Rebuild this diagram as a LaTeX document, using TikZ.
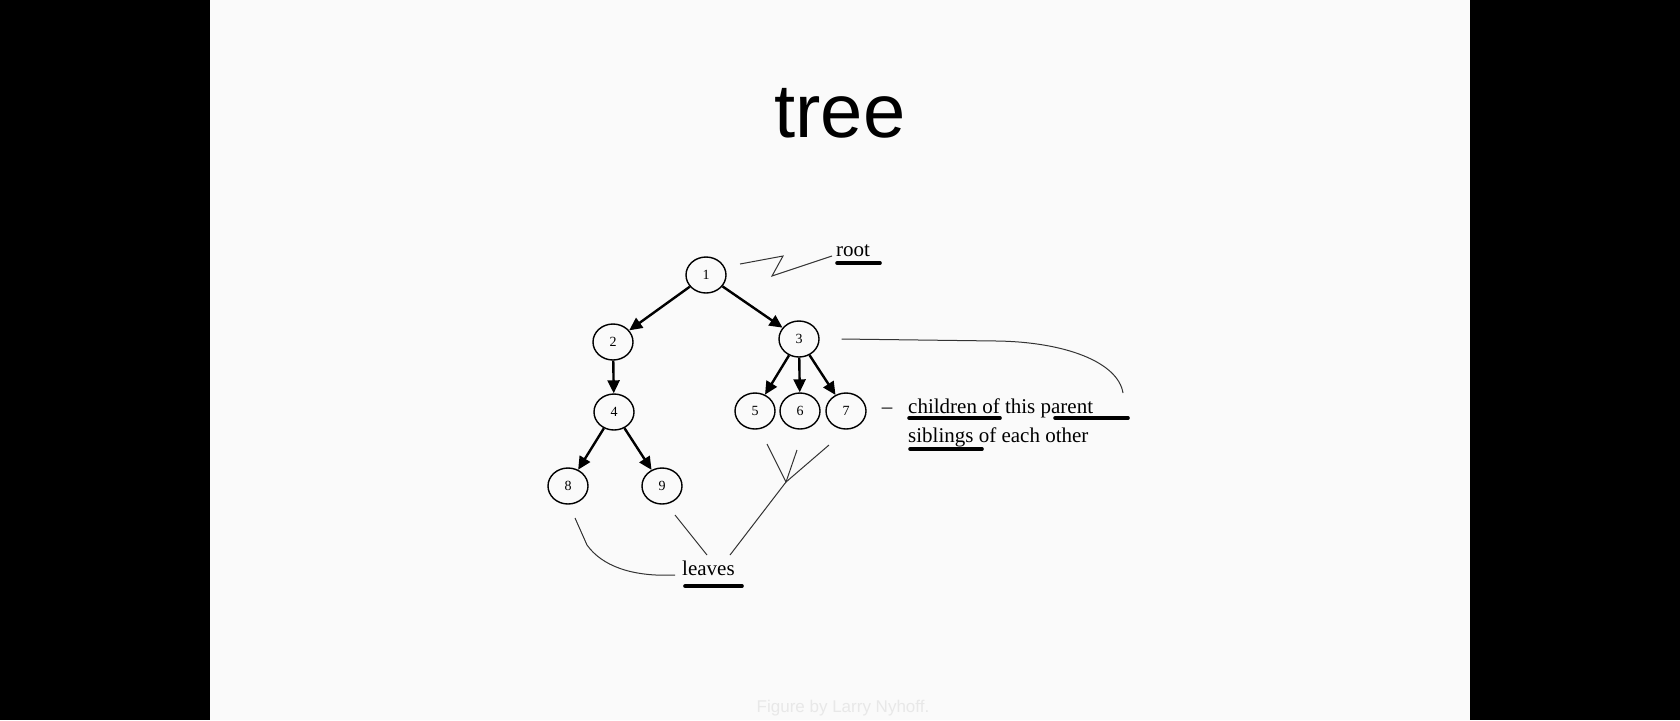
\documentclass[tikz,border=0pt]{standalone}
\usepackage{fontspec}
\setmainfont{Liberation Serif}
\newfontfamily\headfont{Liberation Sans}
\usetikzlibrary{arrows.meta, shapes.geometric}

\begin{document}
\begin{tikzpicture}[->,>={Triangle[length=6.5pt,width=6pt]},x=0.5pt,y=-0.5pt,line width=1.2pt]
                \tikzset{vertex/.style={ellipse, draw, -, line width=0.7pt, minimum width=20pt, minimum height=18pt, inner sep=0pt, font=\fontsize{7pt}{8pt}\selectfont},
                         remark/.style={inner sep=0pt, font=\fontsize{10.5pt}{12pt}\selectfont},
                         note/.style={-, line width=0.5pt, black!80},
                         uline/.style={-, line width=1.8pt, line cap=round}}
                % slide
                \useasboundingbox (0,0) rectangle (1680,720);
                \fill[black] (0,0) rectangle (210,720);
                \fill[black] (1470,0) rectangle (1680,720);
                \fill[white!98!black] (210,0) rectangle (1470,720);
                \node[inner sep=0pt, anchor=base, font=\headfont\fontsize{38pt}{40pt}\selectfont] (title) at (840,137) {tree};
                \node[inner sep=0pt, anchor=base, black!9, font=\headfont\fontsize{8.5pt}{10pt}\selectfont] (credit) at (843,712) {Figure by Larry Nyhoff.};
                % tree
                \node[vertex] (A) at (706,275) {1};
                \node[vertex] (B) at (613,342) {2};
                \node[vertex] (C) at (799,339) {3};
                \node[vertex] (D) at (614,412) {4};
                \node[vertex] (E) at (755,411) {5};
                \node[vertex] (F) at (800,411) {6};
                \node[vertex] (G) at (846,411) {7};
                \node[vertex] (H) at (568,486) {8};
                \node[vertex] (I) at (662,486) {9};
                \path (A) edge              node {} (B);
                \path (A) edge              node {} (C);
                \path (B) edge              node {} (D);
                \path (C) edge              node {} (E);
                \path (C) edge              node {} (F);
                \path (C) edge              node {} (G);
                \path (D) edge              node {} (H);
                \path (D) edge              node {} (I);
                % labels
                \node[remark, anchor=base west] (root) at (835,256) {root};
                \node[remark, anchor=base] (dash) at (887,413) {–};
                \node[remark, anchor=base west] (kids) at (907,413) {children of this parent};
                \node[remark, anchor=base west] (sibs) at (907,442) {siblings of each other};
                \node[remark, anchor=base west] (leaves) at (681,575) {leaves};
                \draw[uline] (837,263) -- (880,263);
                \draw[uline] (909,418) -- (1000,418);
                \draw[uline] (1055,418) -- (1128,418);
                \draw[uline] (910,449) -- (982,449);
                \draw[uline] (685,586) -- (742,586);
                % pointers
                \coordinate (fork) at (786,482);
                \draw[note] (740,264) -- (783,256) -- (772,276) -- ([xshift=-1.5pt]root.base west);
                \draw[note] ([xshift=11pt]C.east) -- (997,341) .. controls (1065,342) and (1118,362) .. (1123,393);
                \draw[note] (767,444) -- (fork);
                \draw[note] (797,450) -- (fork);
                \draw[note] (829,445) -- (fork);
                \draw[note] (fork) -- (730,555);
                \draw[note] (575,518) -- (587,545) .. controls (602,566) and (632,577) .. ([xshift=-3pt]leaves.base west);
                \draw[note] (675,515) -- (707,555);
            \end{tikzpicture}
\end{document}
